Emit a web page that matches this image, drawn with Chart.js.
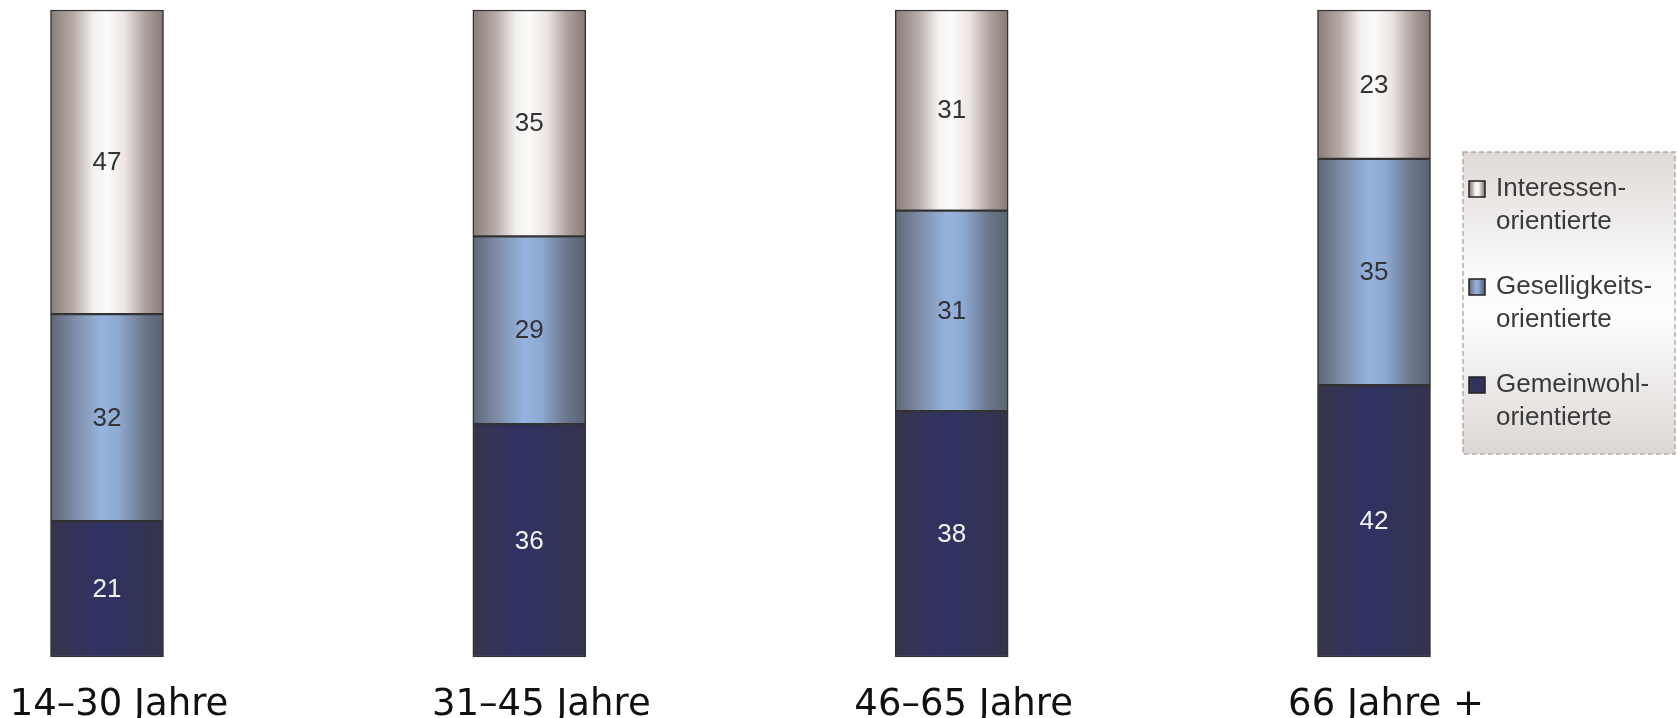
<!DOCTYPE html>
<html lang="de">
<head>
<meta charset="utf-8">
<title>Engagement nach Altersgruppen</title>
<script src="https://cdn.jsdelivr.net/npm/chart.js@4/dist/chart.umd.min.js"></script>
<style>
  html, body { margin: 0; padding: 0; background: #fff; }
  #wrap { position: relative; width: 1677px; height: 718px; }
</style>
</head>
<body>
<div id="wrap"><canvas id="chart"></canvas></div>
<script>
// Daten
const altersgruppen = ["14–30 Jahre", "31–45 Jahre", "46–65 Jahre", "66 Jahre +"];
const gemeinwohl = [21, 36, 38, 42];
const geselligkeit = [32, 29, 31, 35];
const interessen = [47, 35, 31, 23];

const serienNamen = ["Gemeinwohlorientierte", "Geselligkeitsorientierte", "Interessenorientierte"];
const legendZeilen = [
  ["Gemeinwohl-", "orientierte"],
  ["Geselligkeits-", "orientierte"],
  ["Interessen-", "orientierte"],
];

// Farbverläufe (links -> rechts) je Serie
const verlaeufe = [
  [[0, "#36354d"], [0.45, "#303264"], [1, "#34344c"]],
  [[0, "#5e6676"], [0.2, "#7c8aa3"], [0.45, "#95b3de"], [0.6, "#8eaad2"], [0.82, "#6c788e"], [1, "#5a6271"]],
  [[0, "#8a7c78"], [0.2, "#b6aaa7"], [0.38, "#f3f1ef"], [0.5, "#fbfbfa"], [0.66, "#ebe4e2"], [0.84, "#ad9f9c"], [1, "#887975"]],
];
const flach = ["#313158", "#8aa5cc", "#e8e2e0"];
const BAR_W = 113;

function verlauf(ctx, x0, x1, stops) {
  const g = ctx.createLinearGradient(x0, 0, x1, 0);
  stops.forEach(([p, c]) => g.addColorStop(p, c));
  return g;
}

function barFarbe(serie) {
  return (c) => {
    const chart = c.chart;
    if (!chart.chartArea || c.dataIndex === undefined) return flach[serie];
    const cx = chart.scales.x.getPixelForValue(c.dataIndex);
    return verlauf(chart.ctx, cx - BAR_W / 2, cx + BAR_W / 2, verlaeufe[serie]);
  };
}

// Werte in die Segmente schreiben
const wertePlugin = {
  id: "werte",
  afterDatasetsDraw(chart) {
    const ctx = chart.ctx;
    ctx.save();
    ctx.font = "26px 'Liberation Sans', Arial, sans-serif";
    ctx.textAlign = "center";
    ctx.textBaseline = "middle";
    chart.data.datasets.forEach((ds, i) => {
      const meta = chart.getDatasetMeta(i);
      meta.data.forEach((el, j) => {
        ctx.fillStyle = i === 0 ? "#f2f2f2" : "#333333";
        ctx.fillText(String(ds.data[j]), el.x, (el.y + el.base) / 2 + 1);
      });
    });
    ctx.restore();
  },
};

// Legende mit gestricheltem Rahmen
const legendePlugin = {
  id: "legende",
  afterDraw(chart) {
    const ctx = chart.ctx;
    const bx = 1463, by = 152, bw = 212, bh = 302;
    ctx.save();
    const bg = ctx.createLinearGradient(0, by, 0, by + bh);
    bg.addColorStop(0, "#dfdad8");
    bg.addColorStop(0.4, "#fbfbfa");
    bg.addColorStop(0.55, "#fdfdfc");
    bg.addColorStop(1, "#dcd7d5");
    ctx.fillStyle = bg;
    ctx.fillRect(bx, by, bw, bh);
    ctx.setLineDash([5, 3]);
    ctx.strokeStyle = "#b3aaa9";
    ctx.lineWidth = 1.5;
    ctx.strokeRect(bx, by, bw, bh);
    ctx.setLineDash([]);

    ctx.font = "26px 'Liberation Sans', Arial, sans-serif";
    ctx.textBaseline = "middle";
    ctx.textAlign = "left";
    const reihenfolge = [2, 1, 0];
    reihenfolge.forEach((s, k) => {
      const y = 189 + k * 98;
      const mx = 1469, ms = 16;
      ctx.fillStyle = verlauf(ctx, mx, mx + ms, verlaeufe[s]);
      ctx.fillRect(mx, y - ms / 2, ms, ms);
      ctx.strokeStyle = "#222";
      ctx.lineWidth = 1.5;
      ctx.strokeRect(mx, y - ms / 2, ms, ms);
      ctx.fillStyle = "#3a3a3a";
      legendZeilen[s].forEach((z, l) => ctx.fillText(z, 1496, y + l * 33));
    });
    ctx.restore();
  },
};

const werteListen = [gemeinwohl, geselligkeit, interessen];

new Chart(document.getElementById("chart"), {
  type: "bar",
  data: {
    labels: altersgruppen,
    datasets: werteListen.map((werte, i) => ({
      label: serienNamen[i],
      data: werte,
      backgroundColor: barFarbe(i),
      borderColor: "#333333",
      borderWidth: 1.5,
      borderSkipped: false,
      barThickness: BAR_W,
      clip: false,
    })),
  },
  options: {
    responsive: true,
    maintainAspectRatio: false,
    animation: false,
    layout: { padding: { left: 107, right: 303, top: 10, bottom: 0 } },
    plugins: {
      legend: { display: false },
      tooltip: { enabled: false },
    },
    scales: {
      x: {
        stacked: true,
        offset: false,
        grid: { display: false },
        border: { display: false },
        ticks: {
          color: "#111",
          padding: 18,
          maxRotation: 0,
          labelOffset: 12,
          font: { family: "'DejaVu Sans', sans-serif", size: 37 },
        },
        afterFit: (s) => {
          s.paddingLeft = 0;
          s.paddingRight = 0;
          s.height = 61;
        },
      },
      y: {
        stacked: true,
        display: false,
        min: 0,
        max: 100,
      },
    },
  },
  plugins: [wertePlugin, legendePlugin],
});
</script>
</body>
</html>
